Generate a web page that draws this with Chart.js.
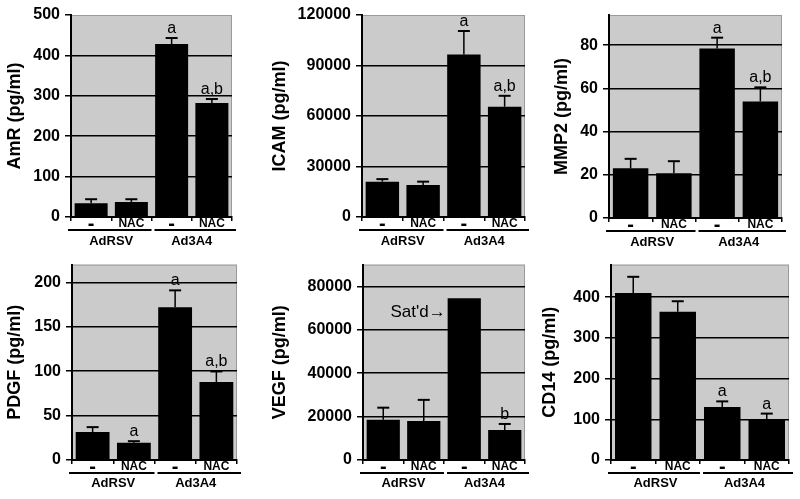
<!DOCTYPE html>
<html>
<head>
<meta charset="utf-8">
<script src="https://cdn.jsdelivr.net/npm/chart.js@4.4.1/dist/chart.umd.min.js"></script>
<style>
  body { margin: 0; background: #fff; }
  #fig { position: relative; width: 800px; height: 499px; }
  #fig canvas { position: absolute; }
</style>
</head>
<body>
<div id="fig"></div>
<script>
// categories
const conditions = ['-', 'NAC', '-', 'NAC'];
const groups = ['AdRSV', 'Ad3A4'];

// series (mean, upper error)
const amrValues = [34, 37, 428, 282];
const amrErrors = [10, 7, 15, 10];
const amrMarks = ['', '', 'a', 'a,b'];

const icamValues = [21000, 19000, 96500, 65500];
const icamErrors = [1500, 2000, 14000, 6500];
const icamMarks = ['', '', 'a', 'a,b'];

const mmp2Values = [23, 20.7, 78.5, 54];
const mmp2Errors = [4.4, 5.6, 5, 6.5];
const mmp2Marks = ['', '', 'a', 'a,b'];

const pdgfValues = [31.5, 19.4, 172, 87.7];
const pdgfErrors = [5.5, 1.8, 19, 12];
const pdgfMarks = ['', 'a', 'a', 'a,b'];

const vegfValues = [18500, 18000, 74500, 13800];
const vegfErrors = [5600, 9700, 0, 2800];
const vegfMarks = ['', '', '', 'b'];
const vegfNotes = ['', '', "Sat'd\u2192", ''];

const cd14Values = [410, 364, 130, 99];
const cd14Errors = [40, 26, 14, 15];
const cd14Marks = ['', '', 'a', 'a'];

// y axes: titles, top of axis, tick labels
const axisTitles = ['AmR (pg/ml)', 'ICAM (pg/ml)', 'MMP2 (pg/ml)', 'PDGF (pg/ml)', 'VEGF (pg/ml)', 'CD14 (pg/ml)'];
const axisMax = [500, 120000, 94, 220, 90000, 480];
const amrTicks = [0, 100, 200, 300, 400, 500];
const icamTicks = [0, 30000, 60000, 90000, 120000];
const mmp2Ticks = [0, 20, 40, 60, 80];
const pdgfTicks = [0, 50, 100, 150, 200];
const vegfTicks = [0, 20000, 40000, 60000, 80000];
const cd14Ticks = [0, 100, 200, 300, 400];

const FONT = "'Liberation Sans', Arial, sans-serif";

// panel boxes and fixed axis sizes (pixels)
const layouts = [
  { left: 0,   top: 0,   w: 265, h: 250, yW: 71, padTop: 15, padRight: 33, xH: 12, gH: 21, gPad: 5, titlePad: 4 },
  { left: 265, top: 0,   w: 265, h: 250, yW: 97, padTop: 15, padRight: 5,  xH: 12, gH: 21, gPad: 5, titlePad: 4 },
  { left: 530, top: 0,   w: 270, h: 250, yW: 79, padTop: 15, padRight: 18, xH: 12, gH: 20, gPad: 5, titlePad: 21 },
  { left: 0,   top: 250, w: 265, h: 249, yW: 72, padTop: 6,  padRight: 28, xH: 12, gH: 27, gPad: 4, titlePad: 4 },
  { left: 265, top: 250, w: 265, h: 249, yW: 98, padTop: 6,  padRight: 5,  xH: 12, gH: 27, gPad: 4, titlePad: 4 },
  { left: 530, top: 250, w: 270, h: 249, yW: 81, padTop: 6,  padRight: 11, xH: 12, gH: 27, gPad: 4, titlePad: 9 }
];

const series = [
  { values: amrValues,  errors: amrErrors,  marks: amrMarks,  ticks: amrTicks },
  { values: icamValues, errors: icamErrors, marks: icamMarks, ticks: icamTicks },
  { values: mmp2Values, errors: mmp2Errors, marks: mmp2Marks, ticks: mmp2Ticks },
  { values: pdgfValues, errors: pdgfErrors, marks: pdgfMarks, ticks: pdgfTicks },
  { values: vegfValues, errors: vegfErrors, marks: vegfMarks, ticks: vegfTicks, notes: vegfNotes },
  { values: cd14Values, errors: cd14Errors, marks: cd14Marks, ticks: cd14Ticks }
];

// gray plot background, error bars, letters and group underlines
const decor = {
  id: 'decor',
  beforeDraw(chart) {
    const a = chart.chartArea, ctx = chart.ctx;
    ctx.save();
    ctx.fillStyle = '#cbcbcb';
    ctx.fillRect(a.left, a.top, a.right - a.left, a.bottom - a.top);
    ctx.strokeStyle = '#9a9a9a';
    ctx.lineWidth = 1;
    ctx.strokeRect(a.left + 0.5, a.top + 0.5, a.right - a.left - 1, a.bottom - a.top);
    ctx.restore();
  },
  afterDatasetsDraw(chart) {
    const ctx = chart.ctx, ds = chart.data.datasets[0];
    const yScale = chart.scales.y;
    const meta = chart.getDatasetMeta(0);
    ctx.save();
    ctx.strokeStyle = '#000';
    ctx.fillStyle = '#000';
    meta.data.forEach((bar, i) => {
      const err = ds.errors[i];
      const capY = yScale.getPixelForValue(ds.data[i] + err);
      if (err > 0) {
        ctx.lineWidth = 1.5;
        ctx.beginPath();
        ctx.moveTo(bar.x, bar.y);
        ctx.lineTo(bar.x, capY);
        ctx.stroke();
        ctx.lineWidth = 2;
        ctx.beginPath();
        ctx.moveTo(bar.x - 6, capY);
        ctx.lineTo(bar.x + 6, capY);
        ctx.stroke();
      }
      if (ds.marks[i]) {
        ctx.font = '16px ' + FONT;
        ctx.textAlign = 'center';
        ctx.textBaseline = 'alphabetic';
        ctx.fillText(ds.marks[i], bar.x, capY - 5);
      }
      if (ds.notes && ds.notes[i]) {
        ctx.font = '17px ' + FONT;
        ctx.textAlign = 'right';
        ctx.textBaseline = 'middle';
        ctx.fillText(ds.notes[i], bar.x - bar.width / 2 - 2, bar.y + 14);
      }
    });
    ctx.restore();
  },
  afterDraw(chart) {
    const ctx = chart.ctx, x = chart.scales.x, a = chart.chartArea;
    const cat = (a.right - a.left) / conditions.length;
    const y = x.bottom + 1;
    ctx.save();
    ctx.strokeStyle = '#000';
    ctx.lineWidth = 2;
    groups.forEach((g, gi) => {
      const x0 = x.getPixelForValue(gi * 2) - cat / 2 + (gi === 0 ? -3 : 3);
      const x1 = x.getPixelForValue(gi * 2 + 1) + cat / 2 + (gi === 0 ? 0 : 4);
      ctx.beginPath();
      ctx.moveTo(x0, y);
      ctx.lineTo(x1, y);
      ctx.stroke();
    });
    ctx.restore();
  }
};

const fig = document.getElementById('fig');

series.forEach((s, i) => {
  const L = layouts[i];
  const max = axisMax[i];
  const canvas = document.createElement('canvas');
  canvas.width = L.w;
  canvas.height = L.h;
  canvas.style.left = L.left + 'px';
  canvas.style.top = L.top + 'px';
  canvas.style.width = L.w + 'px';
  canvas.style.height = L.h + 'px';
  fig.appendChild(canvas);

  new Chart(canvas, {
    type: 'bar',
    data: {
      labels: conditions,
      datasets: [{
        data: s.values,
        errors: s.errors,
        marks: s.marks,
        notes: s.notes,
        xAxisID: 'x',
        yAxisID: 'y',
        backgroundColor: '#000',
        borderWidth: 0,
        barPercentage: 0.82,
        categoryPercentage: 1
      }]
    },
    options: {
      responsive: false,
      animation: false,
      layout: { padding: { top: L.padTop, right: L.padRight, left: 0, bottom: 0 } },
      plugins: { legend: { display: false }, tooltip: { enabled: false } },
      scales: {
        x: {
          grid: { drawOnChartArea: false, color: '#000', tickLength: 4, lineWidth: 1.5, offset: true },
          border: { color: '#000', width: 2 },
          ticks: {
            color: '#000', padding: -3, maxRotation: 0, autoSkip: false,
            // the plain "-" is printed as a heavy dash, kept on the same line box
            font: ctx => (ctx.tick && ctx.tick.label === '-')
              ? { family: FONT, weight: 'bold', size: 20, lineHeight: '12px' }
              : { family: FONT, weight: 'bold', size: 12, lineHeight: 1 }
          },
          afterFit: sc => { sc.height = L.xH; }
        },
        group: {
          type: 'category',
          labels: groups,
          position: 'bottom',
          offset: true,
          grid: { display: false, drawTicks: false },
          border: { display: false },
          ticks: { color: '#000', padding: L.gPad, font: { family: FONT, weight: 'bold', size: 13 } },
          afterFit: sc => { sc.height = L.gH; }
        },
        y: {
          min: 0,
          max: max,
          ticks: {
            color: '#000', padding: 5,
            callback: v => String(v),
            font: { family: FONT, weight: 'bold', size: 16 }
          },
          afterBuildTicks: sc => { sc.ticks = s.ticks.map(v => ({ value: v })); },
          grid: {
            color: ctx => (ctx.tick && ctx.tick.value >= max) ? 'rgba(0,0,0,0)' : '#000',
            tickColor: '#000', lineWidth: 1.5, tickLength: 6
          },
          border: { color: '#000', width: 2 },
          title: {
            display: true, text: axisTitles[i], color: '#000',
            padding: { top: L.titlePad, bottom: 0 },
            font: { family: FONT, weight: 'bold', size: 18 }
          },
          afterFit: sc => { sc.width = L.yW; }
        }
      }
    },
    plugins: [decor]
  });
});
</script>
</body>
</html>
